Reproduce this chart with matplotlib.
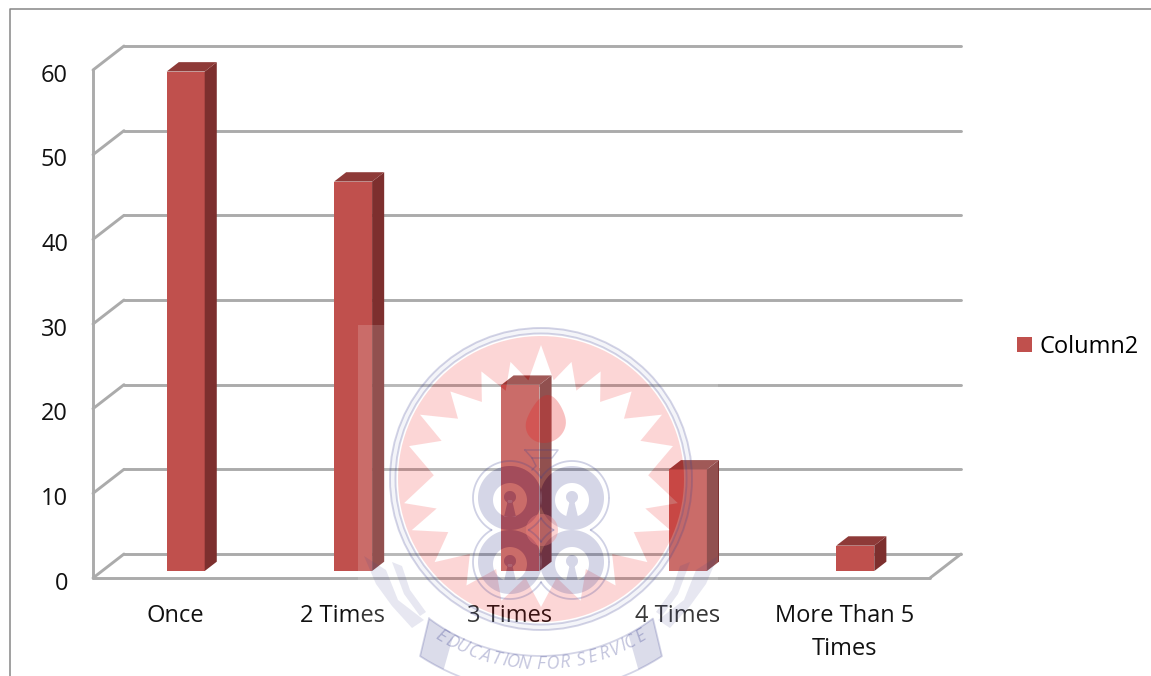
import numpy as np
import matplotlib
matplotlib.use("Agg")
import matplotlib.pyplot as plt
from matplotlib.lines import Line2D
from matplotlib.patches import PathPatch
from matplotlib.path import Path
from matplotlib.transforms import Affine2D

categories = ["Once", "2 Times", "3 Times", "4 Times", "More Than 5\nTimes"]
column2 = [59, 46, 22, 12, 3]
y_ticks = [0, 10, 20, 30, 40, 50, 60]

W, H = 1151, 676
FRONT = "#C0504D"
SIDE = "#7D2F2E"
TOP = "#8E3A38"
GRID = "#ABABAB"
FRAME = "#868686"

plt.rcParams["font.family"] = ["Open Sans", "DejaVu Sans"]

fig = plt.figure(figsize=(W / 100, H / 100), dpi=100)
ax = fig.add_axes([93 / W, 1 - 578 / H, 837 / W, 508 / H])
ax.set_xlim(-0.5, 4.5)
ax.set_ylim(0, 60)
ax.patch.set_visible(False)
for s in ax.spines.values():
    s.set_visible(False)

# floor depth of the 3d look, in data units
depth_x = 31 / 167.4
depth_y = 24 / 8.467
bar_w = 0.227
bar_front = 0.29
bar_back = 0.68

# walls and gridlines
grid_kw = dict(color=GRID, lw=2.1, clip_on=False, solid_capstyle="round", zorder=1)
ax.plot([-0.5, -0.5], [0, 60], **grid_kw)
for t in y_ticks:
    ax.plot([-0.5, -0.5 + depth_x], [t, t + depth_y], **grid_kw)
    ax.plot([-0.5 + depth_x, 4.5 + depth_x], [t + depth_y, t + depth_y], **grid_kw)
ax.plot([-0.5, 4.5], [0, 0], **grid_kw)
ax.plot([4.5, 4.5 + depth_x], [0, depth_y], **grid_kw)

# bars: front from ax.bar, side and top faces from the same values
x_pos = np.arange(len(column2)) + bar_front * depth_x
base = bar_front * depth_y
bars = ax.bar(x_pos, column2, bar_w, bottom=base, color=FRONT, zorder=3, label="Column2")
dx = (bar_back - bar_front) * depth_x
dy = (bar_back - bar_front) * depth_y
for x, v in zip(x_pos, column2):
    right = x + bar_w / 2
    left = x - bar_w / 2
    ax.fill([right, right + dx, right + dx, right],
            [base, base + dy, base + v + dy, base + v],
            color=SIDE, lw=0, zorder=3, clip_on=False)
    ax.fill([left, right, right + dx, left + dx],
            [base + v, base + v, base + v + dy, base + v + dy],
            color=TOP, lw=0, zorder=3, clip_on=False)

ax.set_xticks(range(len(categories)), categories, color="#111111", linespacing=1.5)
ax.set_yticks(y_ticks)
ax.tick_params(axis="both", length=0, labelsize=17, labelcolor="#111111")
ax.tick_params(axis="x", pad=19)
ax.tick_params(axis="y", pad=18)
for lbl in ax.get_yticklabels():
    lbl.set_transform(lbl.get_transform() + Affine2D().translate(0, -2.5))
for lbl in ax.get_xticklabels():
    lbl.set_transform(lbl.get_transform() + Affine2D().translate(-1.5, 0))

fig.legend(handles=[bars], labels=["Column2"], loc="center left", frameon=False,
           bbox_to_anchor=(1017 / W, 1 - 347 / H), fontsize=17, handlelength=0.635,
           handleheight=0.635, handletextpad=0.33, borderpad=0, borderaxespad=0)

# outer frame, open on the right and at the bottom
fig.add_artist(Line2D([10 / W, 10 / W, 1], [0, 1 - 9 / H, 1 - 9 / H], color=FRAME, lw=1.1))

# institution seal over the chart, in pixel coordinates
wm = fig.add_axes([0, 0, 1, 1], zorder=5)
wm.set_xlim(0, W)
wm.set_ylim(H, 0)
wm.axis("off")

cx, cy = 541, 479
BLUE = "#3A3F90"


def circle(x, y, r):
    t = np.linspace(0, 2 * np.pi, 120)
    return Path(np.column_stack([x + r * np.cos(t), y + r * np.sin(t)]))


def poly(points):
    return Path(np.array(list(points) + list(points[:1]), dtype=float))


def flip(path):
    return Path(path.vertices[::-1])


def area(path):
    v = path.vertices
    return 0.5 * np.sum(v[:-1, 0] * v[1:, 1] - v[1:, 0] * v[:-1, 1])


def same_turn(path):
    # every sub-path starts out turning the way circle() does
    return path if area(path) > 0 else flip(path)


def add(path, color, alpha):
    wm.add_patch(PathPatch(path, fc=color, ec="none", alpha=alpha))


# sunburst with irregular rays
tip_deg = [0, 14.6, 29, 46, 62, 76, 100, 111.6, 128, 145, 162, 180]
tip_r = [134, 121, 123, 126, 137, 136, 139, 139, 135, 130, 128, 128]
ang = np.deg2rad(tip_deg + [360 - a for a in tip_deg[-2:0:-1]])
rad = np.array(tip_r + tip_r[-2:0:-1], dtype=float)
star = []
for i in range(len(ang)):
    j = (i + 1) % len(ang)
    a2 = ang[j] + (2 * np.pi if j == 0 else 0)
    star.append((cx + rad[i] * np.sin(ang[i]), cy - rad[i] * np.cos(ang[i])))
    mid = (ang[i] + a2) / 2
    r_mid = 0.39 * (rad[i] + rad[j])
    star.append((cx + r_mid * np.sin(mid), cy - r_mid * np.cos(mid)))
star = same_turn(poly(star))
disc = circle(cx, cy, 143)

# four lobes with keyholes
lobes = [(510, 498), (572, 498), (510, 562), (572, 562)]
lobe_fill = []
lobe_wash = []
for lx, ly in lobes:
    outer = circle(lx, ly, 32)
    hole = flip(circle(lx, ly + 2, 17))
    key_a = circle(lx, ly - 1, 6)
    key_b = same_turn(poly([(lx - 2, ly + 2), (lx + 2, ly + 2), (lx + 6, ly + 19), (lx - 6, ly + 19)]))
    lobe_fill += [outer, hole, key_a, key_b]
    lobe_wash += [flip(outer), flip(hole), flip(key_a), flip(key_b)]

# pale wash over the seal's square, left out under the pink and the lobes
rect = same_turn(poly([(358, 325), (718, 325), (718, 676), (358, 676)]))
add(Path.make_compound_path(rect, flip(disc), star, *lobe_wash), "white", 0.16)
add(Path.make_compound_path(disc, flip(star)), "#F02020", 0.18)
add(Path.make_compound_path(*lobe_fill), BLUE, 0.21)

# rings round the sunburst
for r in (151, 145.5):
    wm.add_patch(plt.Circle((cx, cy), r, fc="none", ec=BLUE, lw=1.4, alpha=0.22))
add(Path.make_compound_path(circle(cx, cy, 151), flip(circle(cx, cy, 145.5))), BLUE, 0.05)

# outline running round the lobes
t = np.linspace(0, 2 * np.pi, 360)
for k, (lx, ly) in enumerate(lobes):
    ox = lx + 37 * np.cos(t)
    oy = ly + 37 * np.sin(t)
    for m, (mx, my) in enumerate(lobes):
        if m != k:
            ox = np.where(np.hypot(ox - mx, oy - my) < 37, np.nan, ox)
    wm.plot(ox, oy, color=BLUE, lw=1.3, alpha=0.24)

# centre dot, flame and torch head
add(circle(542, 530, 16), "white", 0.2)
add(circle(542, 530, 16), "#F02020", 0.2)
fl_t = np.linspace(0, 2 * np.pi, 80)
fl_x = 544 + 20 * np.cos(fl_t) + 6 * (1 - np.sin(fl_t)) * 0.3
fl_y = 424 + 19 * np.sin(fl_t) - 10 * np.clip(-np.sin(fl_t), 0, 1) ** 3
add(Path(np.column_stack([fl_x, fl_y])), "#E81E1E", 0.28)
wm.plot([525, 558, 552, 532, 525], [450, 450, 458, 458, 450], color=BLUE, lw=1.1, alpha=0.25)
wm.plot([532, 536, 532], [458, 466, 470], color=BLUE, lw=1.1, alpha=0.25)

# scroll under the seal
r_in, r_out = 186, 222
scx, scy = 541, 470


def band(a_in, b_in, a_out, b_out):
    s_in = np.deg2rad(np.linspace(a_in, b_in, 30))
    s_out = np.deg2rad(np.linspace(b_out, a_out, 30))
    return poly(list(zip(scx + r_in * np.sin(s_in), scy + r_in * np.cos(s_in)))
                + list(zip(scx + r_out * np.sin(s_out), scy + r_out * np.cos(s_out))))


outline = band(-37, 37, -33, 33).vertices
wm.plot(outline[:, 0], outline[:, 1], color=BLUE, lw=1.3, alpha=0.22)
add(band(-37, -28, -33, -26), BLUE, 0.18)
add(band(28, 37, 26, 33), BLUE, 0.18)

# laurel leaves either side of the scroll
leaves = [
    [(364, 556), (386, 570), (398, 600), (424, 620), (412, 628), (392, 606), (376, 584)],
    [(392, 562), (402, 566), (410, 590), (426, 612), (420, 616), (404, 594)],
]
for leaf in leaves:
    add(poly(leaf), BLUE, 0.12)
    add(poly([(2 * cx - a, b) for a, b in leaf]), BLUE, 0.12)

# motto set along the scroll, narrow glyphs taking less of the arc
motto = "EDUCATION FOR SERVICE"
adv = np.array([0.4 if ch in "I " else 1.0 for ch in motto])
pos = np.cumsum(adv) - adv / 2
motto_deg = -31 + 62 * (pos - pos[0]) / (pos[-1] - pos[0])
for ch, deg in zip(motto, motto_deg):
    rot = np.deg2rad(deg)
    if ch != " ":
        wm.text(scx + 194 * np.sin(rot), scy + 194 * np.cos(rot), ch, rotation=deg,
                rotation_mode="anchor", ha="center", va="center", fontsize=13,
                style="italic", color=BLUE, alpha=0.3)

fig.savefig("out.png", dpi=100)
plt.close(fig)
